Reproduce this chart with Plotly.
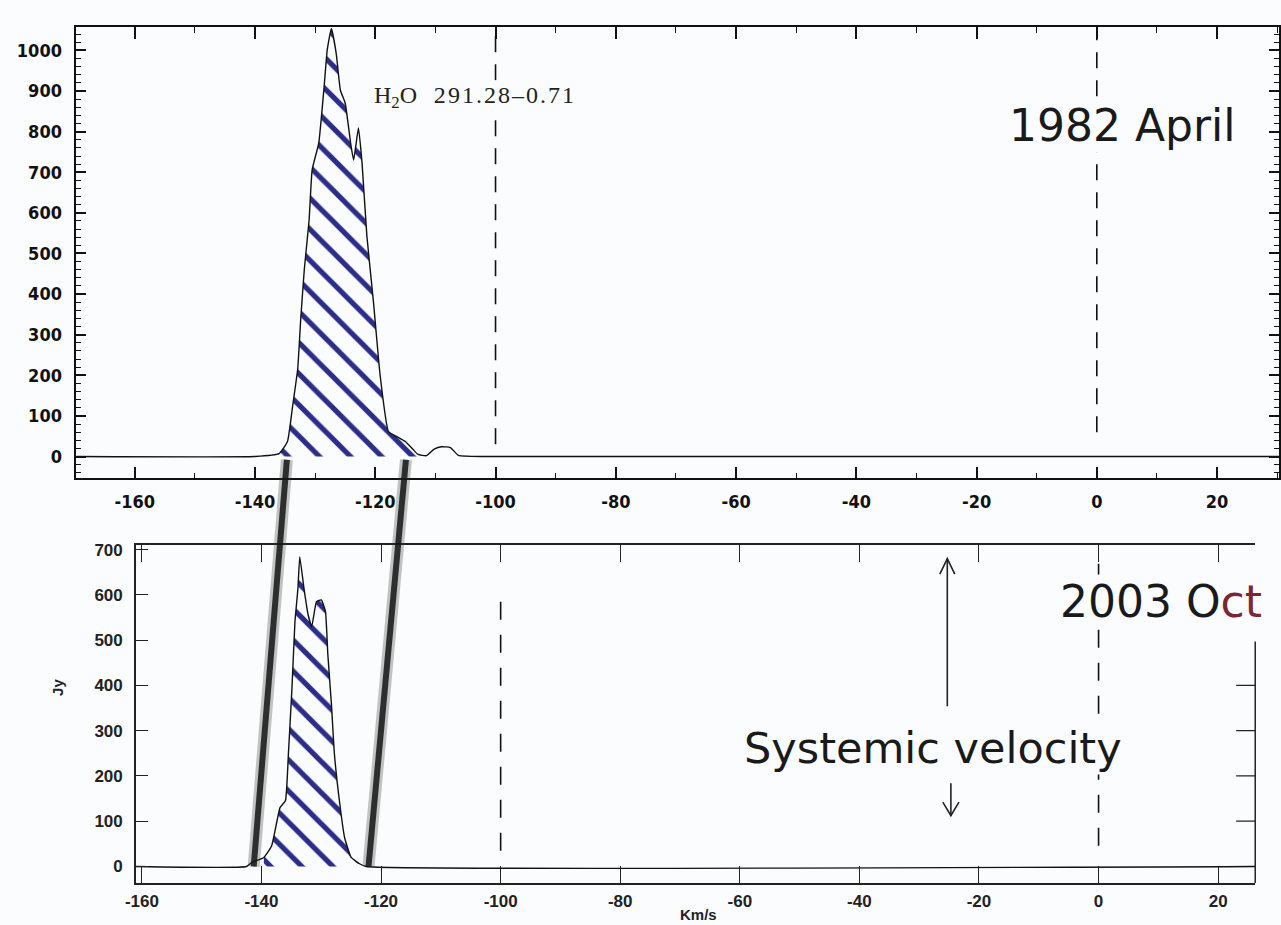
import plotly.graph_objects as go

W, H = 1281, 925

# ---------------- data ----------------
# 1982 April spectrum (km/s, Jy)
v_1982 = [-169.7, -140.0, -136.0, -134.6, -133.8, -132.9, -132.4, -131.8, -131.0, -130.5,
          -129.4, -128.5, -128.0, -127.3, -126.5, -125.8, -125.0, -124.1, -123.6, -122.8,
          -122.2, -121.4, -120.3, -119.2, -117.8, -116.4, -115.0, -113.7, -112.9, -111.5,
          -110.2, -109.0, -107.5, -106.2, -100.0, 30.3]
f_1982 = [0, 0, 7, 37, 118, 216, 338, 461, 583, 706,
          772, 912, 1000, 1054, 993, 902, 870, 772, 730, 809,
          723, 544, 380, 201, 61, 49, 37, 17, 5, 2,
          18, 24, 22, 3, 0, 0]
hatch_1982 = [-136.0, -112.9]   # hand-hatched velocity span

# 2003 Oct spectrum (km/s, Jy)
v_2003 = [-161.0, -142.5, -141.6, -139.6, -138.3, -137.4, -136.9, -136.0, -135.5, -134.9,
          -134.4, -133.9, -133.6, -132.9, -132.2, -131.6, -130.8, -130.0, -129.3, -128.9,
          -128.3, -127.8, -126.9, -126.1, -125.0, -123.6, -122.5, 26.2]
f_2003 = [0, 0, 9, 20, 46, 101, 130, 145, 248, 395,
          541, 615, 684, 615, 556, 530, 585, 589, 563, 468,
          358, 248, 138, 64, 20, 6, 0, 0]
hatch_2003 = [-139.6, -125.0]

# tick labels
x_tickvals = [-160, -140, -120, -100, -80, -60, -40, -20, 0, 20]
x_ticktext = ["-160", "-140", "-120", "-100", "-80", "-60", "-40", "-20", "0", "20"]
y1_tickvals = [0, 100, 200, 300, 400, 500, 600, 700, 800, 900, 1000]
y2_tickvals = [0, 100, 200, 300, 400, 500, 600, 700]
y2_right_ticks = [100, 200, 300, 400]

# pencil links (km/s): edges of emission in 1982 -> 2003
link_top_v = [-134.7, -114.9]
link_bot_v = [-141.3, -122.1]

systemic_v = -25.3
dashed_v = [-100, 0]

# ---------------- geometry ----------------
X1_RANGE = [-169.7, 30.3]
Y1_RANGE = [-54, 1058]
X2_RANGE = [-161.0, 26.2]
Y2_RANGE = [-37, 710]
X1_DOM = [66 / W, 1279 / W]
Y1_DOM = [1 - 476 / H, 1 - 22 / H]
X2_DOM = [126 / W, 1255 / W]
Y2_DOM = [1 - 883 / H, 1 - 543 / H]


def to_paper(v, f, xd, xr, yd, yr):
    px = xd[0] + (v - xr[0]) / (xr[1] - xr[0]) * (xd[1] - xd[0])
    py = yd[0] + (f - yr[0]) / (yr[1] - yr[0]) * (yd[1] - yd[0])
    return px, py


def subset(vs, fs, span):
    pairs = [(v, f) for v, f in zip(vs, fs) if span[0] <= v <= span[1]]
    return [p[0] for p in pairs], [p[1] for p in pairs]


NAVY = "#2b2d88"
BG = "#fbfcfd"
LINE_SHAPE = dict(shape="spline", smoothing=0.4)

fig = go.Figure()

for vs, fs, span, xa, ya in [(v_1982, f_1982, hatch_1982, "x", "y"),
                             (v_2003, f_2003, hatch_2003, "x2", "y2")]:
    hv, hf = subset(vs, fs, span)
    fig.add_trace(go.Scatter(
        x=hv, y=hf, xaxis=xa, yaxis=ya, mode="lines",
        line=dict(color="rgba(0,0,0,0)", width=0, **LINE_SHAPE),
        fill="tozeroy", fillcolor="rgba(0,0,0,0)",
        fillpattern=dict(shape="\\", fgcolor=NAVY, bgcolor="rgba(0,0,0,0)",
                         size=22, solidity=0.24, fgopacity=1),
        showlegend=False, hoverinfo="skip"))
    fig.add_trace(go.Scatter(
        x=vs, y=fs, xaxis=xa, yaxis=ya, mode="lines",
        line=dict(color="#111", width=1.4, **LINE_SHAPE),
        showlegend=False, hoverinfo="skip"))

shapes = []
# dashed lines, top panel
top_dash_extent = {-100: (30, 1054), 0: (60, 1054)}
for v in dashed_v:
    y0, y1 = top_dash_extent[v]
    shapes.append(dict(type="line", xref="x", yref="y", x0=v, x1=v, y0=y0, y1=y1,
                       line=dict(color="#111", width=1.6, dash="16px,12px")))
# dashed lines, bottom panel
bot_dash_extent = {-100: (35, 585), 0: (46, 684)}
for v in dashed_v:
    y0, y1 = bot_dash_extent[v]
    shapes.append(dict(type="line", xref="x2", yref="y2", x0=v, x1=v, y0=y0, y1=y1,
                       line=dict(color="#111", width=1.6, dash="18px,15px")))

# right axis of lower panel (partial) with ticks
shapes.append(dict(type="line", xref="x2 domain", yref="y2", x0=1, x1=1, y0=Y2_RANGE[0], y1=497,
                   line=dict(color="#222", width=1.5)))
for t in y2_right_ticks:
    shapes.append(dict(type="line", xref="x2 domain", yref="y2", x0=0.983, x1=1, y0=t, y1=t,
                       line=dict(color="#222", width=1.3)))
# left axis overshoot above top line
shapes.append(dict(type="line", xref="x2 domain", yref="y2", x0=0.005, x1=0.005, y0=Y2_RANGE[1], y1=745,
                   line=dict(color="#222", width=1.3)))

# systemic velocity arrows
ARW = dict(color="#222", width=1.6)
shapes.append(dict(type="line", xref="x2", yref="y2", x0=systemic_v, x1=systemic_v, y0=354, y1=680, line=ARW))
shapes.append(dict(type="path", xref="x2", yref="y2",
                   path=f"M {systemic_v-1.25},646 L {systemic_v},680 L {systemic_v+1.25},646", line=ARW))
sv2 = systemic_v + 0.6
shapes.append(dict(type="line", xref="x2", yref="y2", x0=sv2, x1=sv2, y0=184, y1=112, line=ARW))
shapes.append(dict(type="path", xref="x2", yref="y2",
                   path=f"M {sv2-1.35},142 L {sv2},112 L {sv2+1.35},142", line=ARW))

# pencil links
for vt, vb in zip(link_top_v, link_bot_v):
    xt, yt = to_paper(vt, -8, X1_DOM, X1_RANGE, Y1_DOM, Y1_RANGE)
    xb, yb = to_paper(vb, 0, X2_DOM, X2_RANGE, Y2_DOM, Y2_RANGE)
    shapes.append(dict(type="line", xref="paper", yref="paper", x0=xt, y0=yt, x1=xb, y1=yb,
                       line=dict(color="rgba(60,60,60,0.3)", width=12)))
    shapes.append(dict(type="line", xref="paper", yref="paper", x0=xt, y0=yt, x1=xb, y1=yb,
                       line=dict(color="rgba(20,20,20,0.85)", width=6)))

label_id = "\u200a".join("291.28") + "\u200a\u2013\u200a" + "\u200a".join("0.71")
annotations = [
    dict(text="H<sub>2</sub>O\u2002\u2009" + label_id, x=364 / W, y=1 - 92 / H,
         xref="paper", yref="paper", xanchor="left", yanchor="middle", showarrow=False,
         font=dict(family="Liberation Serif", size=24, color="#222"), bgcolor=BG),
    dict(text="1982 April", x=1121 / W, y=1 - 121 / H, xref="paper", yref="paper",
         xanchor="center", yanchor="middle", showarrow=False,
         font=dict(family="DejaVu Sans", size=44, color="#1a1a1a"), bgcolor=BG),
    dict(text="2003 O<span style='color:#7a2636'>ct</span>", x=1160 / W, y=1 - 600 / H,
         xref="paper", yref="paper", xanchor="center", yanchor="middle", showarrow=False,
         font=dict(family="DejaVu Sans", size=44, color="#1a1a1a"), bgcolor=BG),
    dict(text="Systemic velocity", x=930 / W, y=1 - 747 / H, xref="paper", yref="paper",
         xanchor="center", yanchor="middle", showarrow=False,
         font=dict(family="DejaVu Sans", size=43, color="#1a1a1a"), bgcolor=BG),
    dict(text="<b>Km/s</b>", x=693 / W, y=1 - 914 / H, xref="paper", yref="paper",
         xanchor="center", yanchor="middle", showarrow=False,
         font=dict(family="Liberation Sans", size=15, color="#222")),
    dict(text="<b>Jy</b>", x=47 / W, y=1 - 686 / H, xref="paper", yref="paper",
         xanchor="center", yanchor="middle", showarrow=False, textangle=-90,
         font=dict(family="Liberation Sans", size=15, color="#222")),
]

top_tickfont = dict(family="DejaVu Sans Condensed", size=18, color="#111", weight="bold")
bot_tickfont = dict(family="Liberation Sans", size=17, color="#222", weight="bold")

fig.update_layout(
    width=W, height=H, margin=dict(l=0, r=0, t=0, b=0),
    paper_bgcolor=BG, plot_bgcolor=BG, showlegend=False,
    xaxis=dict(domain=X1_DOM, range=X1_RANGE, anchor="y", showline=True, linecolor="#111",
               linewidth=1.8, mirror="allticks", ticks="inside", ticklen=12, tickwidth=1.6,
               tickcolor="#111", tickvals=x_tickvals, ticktext=x_ticktext, tickfont=top_tickfont,
               minor=dict(ticks="inside", ticklen=6, tickwidth=1.4, dtick=10, tick0=0,
                          tickcolor="#111", showgrid=False),
               showgrid=False, zeroline=False, ticklabelstandoff=6),
    yaxis=dict(domain=Y1_DOM, range=Y1_RANGE, anchor="x", showline=True, linecolor="#111",
               linewidth=1.8, mirror="allticks", ticks="inside", ticklen=10, tickwidth=1.5,
               tickcolor="#111", tickvals=y1_tickvals, tickfont=top_tickfont,
               minor=dict(ticks="inside", ticklen=5, tickwidth=1.2, dtick=20, tick0=0,
                          tickcolor="#111", showgrid=False),
               showgrid=False, zeroline=False, ticklabelstandoff=9),
    xaxis2=dict(domain=X2_DOM, range=X2_RANGE, anchor="y2", showline=True, linecolor="#222",
                linewidth=1.5, mirror="allticks", ticks="inside", ticklen=17, tickwidth=1.3,
                tickcolor="#222", tickvals=x_tickvals, ticktext=x_ticktext, tickfont=bot_tickfont,
                showgrid=False, zeroline=False, ticklabelstandoff=2),
    xaxis3=dict(overlaying="x2", side="top", anchor="y2", range=X2_RANGE, showline=False,
                ticks="outside", ticklen=18, tickwidth=1.3, tickcolor="#222",
                tickvals=x_tickvals, showticklabels=False, showgrid=False, zeroline=False),
    yaxis2=dict(domain=Y2_DOM, range=Y2_RANGE, anchor="x2", showline=True, linecolor="#222",
                linewidth=1.5, mirror=False, ticks="inside", ticklen=12, tickwidth=1.3,
                tickcolor="#222", tickvals=y2_tickvals, tickfont=bot_tickfont,
                showgrid=False, zeroline=False, ticklabelstandoff=8),
    shapes=shapes, annotations=annotations,
)

fig.write_html("out.html")
